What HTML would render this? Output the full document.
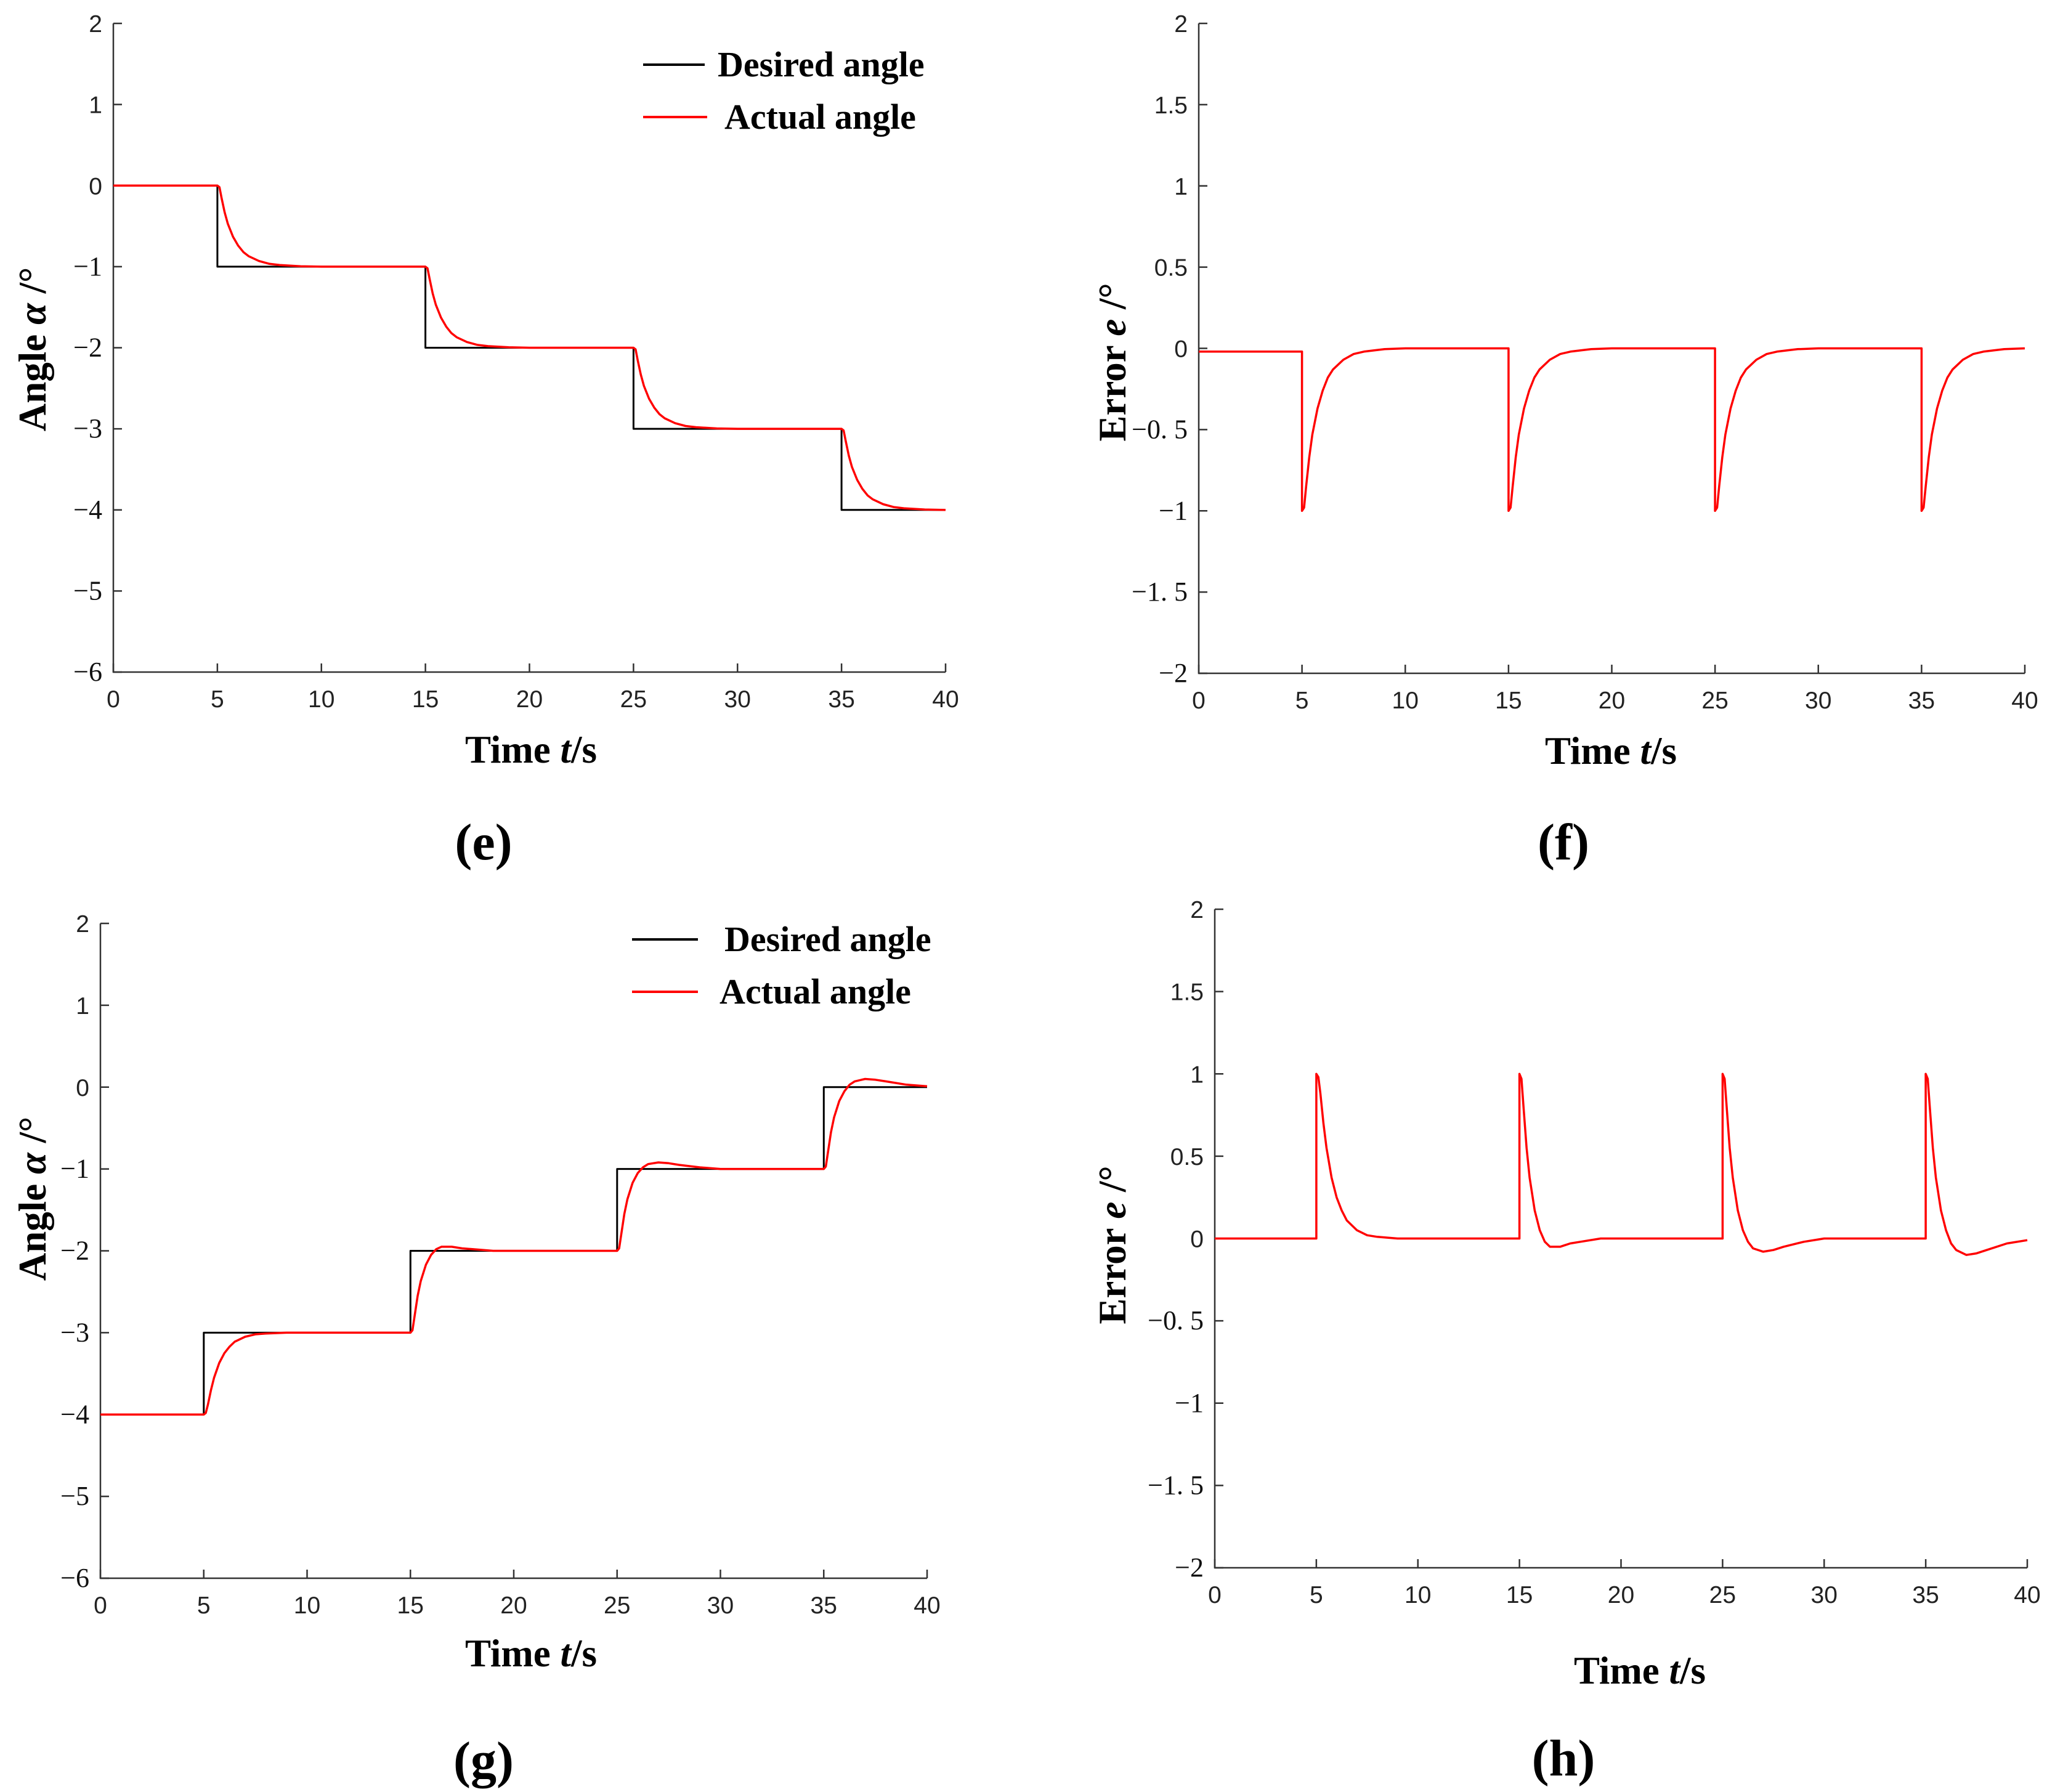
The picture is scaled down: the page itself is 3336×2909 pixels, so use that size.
<!DOCTYPE html>
<html><head><meta charset="utf-8"><style>
html,body{margin:0;padding:0;background:#fff;}
svg{display:block;}
.tk{font-family:"Liberation Sans",sans-serif;font-size:39px;fill:#222;}
.tks{font-family:"Liberation Serif",serif;font-size:44px;fill:#111;}
.ttl{font-family:"Liberation Serif",serif;font-size:63px;font-weight:bold;fill:#000;}
.lg{font-family:"Liberation Serif",serif;font-size:58px;font-weight:bold;fill:#000;}
.pl{font-family:"Liberation Serif",serif;font-size:84px;font-weight:bold;fill:#000;}
</style></head><body>
<svg id="fig" width="3336" height="2909" viewBox="0 0 3336 2909" xmlns="http://www.w3.org/2000/svg"></svg>
<script>
// ---- data ----
const xTicks = [0,5,10,15,20,25,30,35,40];
const angleTicks = [2,1,0,-1,-2,-3,-4,-5,-6];
const angleTickLabels = ["2","1","0","\u22121","\u22122","\u22123","\u22124","\u22125","\u22126"];
const errTicks = [2,1.5,1,0.5,0,-0.5,-1,-1.5,-2];
const errTickLabels = ["2","1.5","1","0.5","0","\u22120. 5","\u22121","\u22121. 5","\u22122"];
const stepTimes = [5,15,25,35];
const desiredE = [0,-1,-2,-3,-4];
const desiredG = [-4,-3,-2,-1,0];
const respOffsets = [0,0.1,0.2,0.35,0.5,0.75,1,1.25,1.5,2,2.5,3,4,5,10];
const respE = [0,0.02,0.15,0.33,0.47,0.63,0.74,0.82,0.87,0.93,0.965,0.98,0.995,1,1];
const errF = [-1,-0.98,-0.85,-0.67,-0.53,-0.37,-0.26,-0.18,-0.13,-0.07,-0.035,-0.02,-0.005,0,0];
const errFBase = -0.02;
const respG1 = [0,0.02,0.12,0.3,0.45,0.63,0.75,0.83,0.89,0.95,0.98,0.99,1,1,1];
const respG2 = [0,0.03,0.2,0.45,0.63,0.83,0.95,1.02,1.05,1.05,1.03,1.02,1.0,1.0,1];
const respG3 = [0,0.03,0.2,0.45,0.63,0.83,0.95,1.02,1.06,1.08,1.07,1.05,1.02,1.0,1];
const respG4 = [0,0.03,0.2,0.45,0.63,0.83,0.95,1.03,1.07,1.1,1.09,1.07,1.03,1.01,1];
const respG = [respG1,respG2,respG3,respG4];

const NS="http://www.w3.org/2000/svg";
const svg=document.getElementById('fig');
function mk(tag,attrs,parent){const e=document.createElementNS(NS,tag);for(const k in attrs)e.setAttribute(k,attrs[k]);(parent||svg).appendChild(e);return e;}

function panel(p){
  const g=mk('g',{});
  
  
  const sx=v=>p.L+(v-0)/(40-0)*(p.R-p.L);
  const sy=v=>p.B-(v-p.ymin)/(p.ymax-p.ymin)*(p.B-p.T);
  const ax=mk('path',{d:`M${p.L},${p.T}L${p.L},${p.B}L${p.R},${p.B}`,fill:'none',stroke:'#333','stroke-width':2.5},g);
  
  
  xTicks.forEach(t=>{
    mk('line',{x1:sx(t),x2:sx(t),y1:p.B,y2:p.B-14,stroke:'#333','stroke-width':2.5},g);
    const tx=mk('text',{x:sx(t),y:p.B+57,'text-anchor':'middle',class:'tk'},g);tx.textContent=t;
    
    
  });
  p.yt.forEach((t,i)=>{
    mk('line',{x1:p.L,x2:p.L+14,y1:sy(t),y2:sy(t),stroke:'#333','stroke-width':2.5},g);
    const lab=p.ytl[i];const serif=lab.indexOf('\u2212')>=0;
    const tx=mk('text',{x:p.L-18,y:sy(t)+14,'text-anchor':'end',class:serif?'tks':'tk'},g);tx.textContent=lab;
    
    
  });
  p.series.forEach(s=>{
    const d=s.pts.map((q,i)=>(i?'L':'M')+sx(q[0]).toFixed(1)+','+sy(q[1]).toFixed(1)).join('');
    const pa=mk('path',{d:d,fill:'none',stroke:s.color,'stroke-width':s.w,'stroke-linejoin':'round'},g);
    
    
  });
  const xl=mk('text',{x:p.xl[0],y:p.xl[1],'text-anchor':'middle',class:'ttl'},g);
  xl.innerHTML='Time <tspan font-style="italic">t</tspan>/s';
  
  
  const yl=mk('text',{x:0,y:0,'text-anchor':'middle',class:'ttl',transform:`translate(${p.yl[0]},${p.yl[1]}) rotate(-90)`},g);
  yl.innerHTML=p.ylab;
  
  
  const pl=mk('text',{x:p.pl[0],y:p.pl[1],'text-anchor':'middle',class:'pl'},g);
  pl.textContent=p.letter;
  
  
  if(p.legend){
    p.legend.forEach(l=>{
      mk('line',{x1:l.x1,x2:l.x2,y1:l.y,y2:l.y,stroke:l.color,'stroke-width':4},g);
      const t=mk('text',{x:l.tx,y:l.y+19,class:'lg'},g);t.textContent=l.text;
      
      
    });
  }
}
function desiredPts(levels){
  const pts=[[0,levels[0]]];
  stepTimes.forEach((t,i)=>{pts.push([t,levels[i]]);pts.push([t,levels[i+1]]);});
  pts.push([40,levels[levels.length-1]]);return pts;
}
function actualPts(levels,shapes){
  const pts=[[0,levels[0]]];
  stepTimes.forEach((t,i)=>{
    const sh=Array.isArray(shapes[0])?shapes[i]:shapes;
    const a=levels[i],b=levels[i+1];
    const lim=(i+1<stepTimes.length?stepTimes[i+1]:40)-t;
    respOffsets.forEach((o,k)=>{if(o<=lim)pts.push([t+o,a+(b-a)*sh[k]]);});
  });
  return pts;
}
function errPts(base,vals){
  const pts=[[0,base]];
  stepTimes.forEach((t,i)=>{
    const v=Array.isArray(vals[0])?vals[i]:vals;
    pts.push([t,i===0?base:0]);
    const lim=(i+1<stepTimes.length?stepTimes[i+1]:40)-t;
    respOffsets.forEach((o,k)=>{if(o<=lim)pts.push([t+o,v[k]]);});
  });
  return pts;
}
const errH=respG.map(a=>a.map(v=>1-v));

panel({name:'panel-e',letter:'(e)',L:184,R:1535,T:38,B:1091,ymin:-6,ymax:2,yt:angleTicks,ytl:angleTickLabels,
  xl:[862,1238],yl:[74,567],pl:[785,1395],ylab:'Angle <tspan font-style="italic">α</tspan> /°',
  series:[{name:'desired-angle-line',color:'#000',w:3,pts:desiredPts(desiredE)},{name:'actual-angle-line',color:'#f00',w:3.5,pts:actualPts(desiredE,respE)}],
  legend:[{x1:1044,x2:1144,y:105,color:'#000',tx:1165,text:'Desired angle'},{x1:1044,x2:1148,y:190,color:'#f00',tx:1176,text:'Actual angle'}]});
panel({name:'panel-f',letter:'(f)',L:1946,R:3287,T:38,B:1093,ymin:-2,ymax:2,yt:errTicks,ytl:errTickLabels,
  xl:[2615,1240],yl:[1827,588],pl:[2538,1395],ylab:'Error <tspan font-style="italic">e</tspan> /°',
  series:[{name:'error-line',color:'#f00',w:3.5,pts:errPts(errFBase,errF)}]});
panel({name:'panel-g',letter:'(g)',L:163,R:1505,T:1499,B:2562,ymin:-6,ymax:2,yt:angleTicks,ytl:angleTickLabels,
  xl:[862,2705],yl:[74,1946],pl:[785,2885],ylab:'Angle <tspan font-style="italic">α</tspan> /°',
  series:[{name:'desired-angle-line',color:'#000',w:3,pts:desiredPts(desiredG)},{name:'actual-angle-line',color:'#f00',w:3.5,pts:actualPts(desiredG,respG)}],
  legend:[{x1:1026,x2:1133,y:1525,color:'#000',tx:1176,text:'Desired angle'},{x1:1026,x2:1133,y:1610,color:'#f00',tx:1168,text:'Actual angle'}]});
panel({name:'panel-h',letter:'(h)',L:1972,R:3291,T:1476,B:2545,ymin:-2,ymax:2,yt:errTicks,ytl:errTickLabels,
  xl:[2662,2733],yl:[1827,2021],pl:[2538,2882],ylab:'Error <tspan font-style="italic">e</tspan> /°',
  series:[{name:'error-line',color:'#f00',w:3.5,pts:errPts(0,errH)}]});
</script>
</body></html>
